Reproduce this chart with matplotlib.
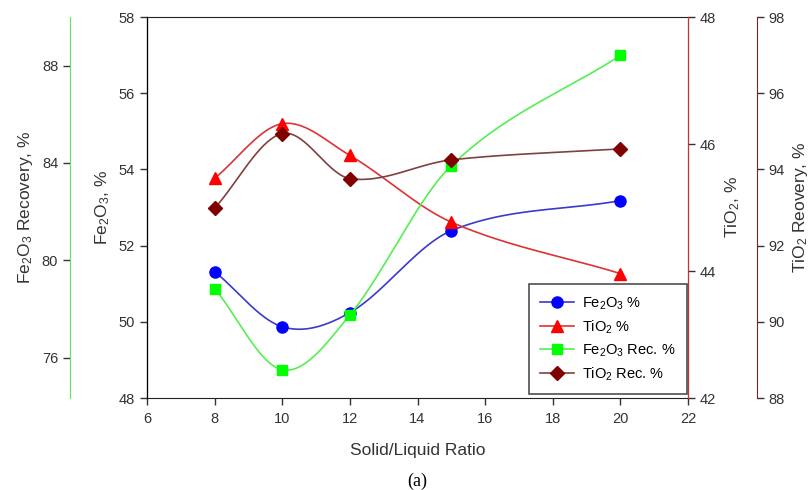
import matplotlib
matplotlib.use("Agg")
import matplotlib.pyplot as plt
import numpy as np

plt.rcParams['font.family'] = ['Liberation Sans', 'DejaVu Sans']
plt.rcParams['mathtext.default'] = 'regular'

ratio = [8, 10, 12, 15, 20]
fe2o3 = [51.32, 49.87, 50.24, 52.39, 53.18]
tio2 = [45.46, 46.32, 45.82, 44.77, 43.96]
fe2o3_rec = [78.84, 75.50, 77.75, 83.89, 88.42]
tio2_rec = [92.98, 94.94, 93.76, 94.25, 94.54]


def smooth(x, y, n=60):
    # cubic Hermite curve through the measured points (line only),
    # slopes from neighbouring points like the original software's spline
    x = np.asarray(x, float)
    y = np.asarray(y, float)
    m = np.empty_like(y)
    m[0] = (y[1] - y[0]) / (x[1] - x[0])
    m[-1] = (y[-1] - y[-2]) / (x[-1] - x[-2])
    m[1:-1] = (y[2:] - y[:-2]) / (x[2:] - x[:-2])
    xs_all, ys_all = [], []
    for i in range(len(x) - 1):
        h = x[i + 1] - x[i]
        t = np.linspace(0, 1, n)
        h00 = 2 * t**3 - 3 * t**2 + 1
        h10 = t**3 - 2 * t**2 + t
        h01 = -2 * t**3 + 3 * t**2
        h11 = t**3 - t**2
        xs_all.append(x[i] + t * h)
        ys_all.append(h00 * y[i] + h10 * h * m[i] + h01 * y[i + 1] + h11 * h * m[i + 1])
    return np.concatenate(xs_all), np.concatenate(ys_all)


fig = plt.figure(figsize=(8.09, 4.9), dpi=100)
ax = fig.add_axes([147 / 809, 1 - 398 / 490, 541 / 809, 381 / 490])
ax_ti = ax.twinx()
ax_ferec = ax.twinx()
ax_tirec = ax.twinx()

tick_kw = dict(direction='out', length=5, width=1, labelsize=10.5, colors='#333333')
lab_kw = dict(fontsize=12.5, color='#333333')

# main Fe2O3 axis
xs, ys = smooth(ratio, fe2o3)
ax.plot(xs, ys, color='#3a3acc', lw=1.2)
ax.plot(ratio, fe2o3, 'o', color='#0000ff', ms=8)
ax.set_xlim(6, 22)
ax.set_ylim(48, 58)
ax.set_xticks(range(6, 23, 2))
ax.set_yticks(range(48, 59, 2))
ax.tick_params(**tick_kw)
ax.tick_params(axis='x', pad=5)
ax.spines['left'].set_color('#1a1a80')
ax.spines['top'].set_color('#222222')
ax.spines['bottom'].set_color('#222222')
ax.set_xlabel('Solid/Liquid Ratio', labelpad=12, **lab_kw)
ax.set_ylabel('Fe$_2$O$_3$, %', labelpad=5, **lab_kw)

# TiO2 axis
xs, ys = smooth(ratio, tio2)
ax_ti.plot(xs, ys, color='#dd3333', lw=1.2)
ax_ti.plot(ratio, tio2, '^', color='#ff0000', ms=8)
ax_ti.set_ylim(42, 48)
ax_ti.set_yticks(range(42, 49, 2))
ax_ti.tick_params(**tick_kw)
ax_ti.spines['right'].set_color('#cc3333')
ax_ti.set_ylabel('TiO$_2$, %', labelpad=5, **lab_kw)

# Fe2O3 recovery axis (far left)
xs, ys = smooth(ratio, fe2o3_rec)
ax_ferec.plot(xs, ys, color='#55ee55', lw=1.2)
ax_ferec.plot(ratio, fe2o3_rec, 's', color='#00ff00', ms=7.5)
ax_ferec.set_ylim(74.34, 90)
ax_ferec.set_yticks([76, 80, 84, 88])
ax_ferec.spines['left'].set_position(('axes', -77 / 541))
ax_ferec.spines['left'].set_visible(True)
ax_ferec.spines['left'].set_color('#66dd66')
ax_ferec.spines['right'].set_visible(False)
ax_ferec.yaxis.set_ticks_position('left')
ax_ferec.yaxis.set_label_position('left')
ax_ferec.tick_params(**tick_kw)
ax_ferec.set_ylabel('Fe$_2$O$_3$ Recovery, %', labelpad=5, **lab_kw)

# TiO2 recovery axis (far right)
xs, ys = smooth(ratio, tio2_rec)
ax_tirec.plot(xs, ys, color='#804040', lw=1.2)
ax_tirec.plot(ratio, tio2_rec, 'D', color='#800000', ms=7.5)
ax_tirec.set_ylim(88, 98)
ax_tirec.set_yticks(range(88, 99, 2))
ax_tirec.spines['right'].set_position(('axes', 610 / 541))
ax_tirec.spines['right'].set_color('#8b2020')
ax_tirec.tick_params(**tick_kw)
ax_tirec.set_ylabel('TiO$_2$ Reovery, %', labelpad=4, **lab_kw)

for a in (ax_ti, ax_ferec, ax_tirec):
    a.spines['top'].set_visible(False)
    a.spines['bottom'].set_visible(False)

handles = [
    plt.Line2D([], [], color='#3a3acc', marker='o', mfc='#0000ff', mec='#0000ff', ms=8, lw=1.2),
    plt.Line2D([], [], color='#dd3333', marker='^', mfc='#ff0000', mec='#ff0000', ms=8, lw=1.2),
    plt.Line2D([], [], color='#55ee55', marker='s', mfc='#00ff00', mec='#00ff00', ms=7.5, lw=1.2),
    plt.Line2D([], [], color='#804040', marker='D', mfc='#800000', mec='#800000', ms=7.5, lw=1.2),
]
labels = ['Fe$_2$O$_3$ %', 'TiO$_2$ %', 'Fe$_2$O$_3$ Rec. %', 'TiO$_2$ Rec. %']
leg = ax_tirec.legend(handles, labels, loc='lower right', bbox_to_anchor=(0.998, 0.01),
                      fontsize=10.5, frameon=True, fancybox=False, edgecolor='#222222',
                      handlelength=2.3, handletextpad=0.55, borderpad=0.8,
                      labelspacing=0.45, borderaxespad=0)
leg.get_frame().set_linewidth(1.2)

fig.text(0.516, 1 - 481 / 490, '(a)', fontsize=13, family='Liberation Serif',
         ha='center', va='center')

fig.savefig('out.png', dpi=100)
